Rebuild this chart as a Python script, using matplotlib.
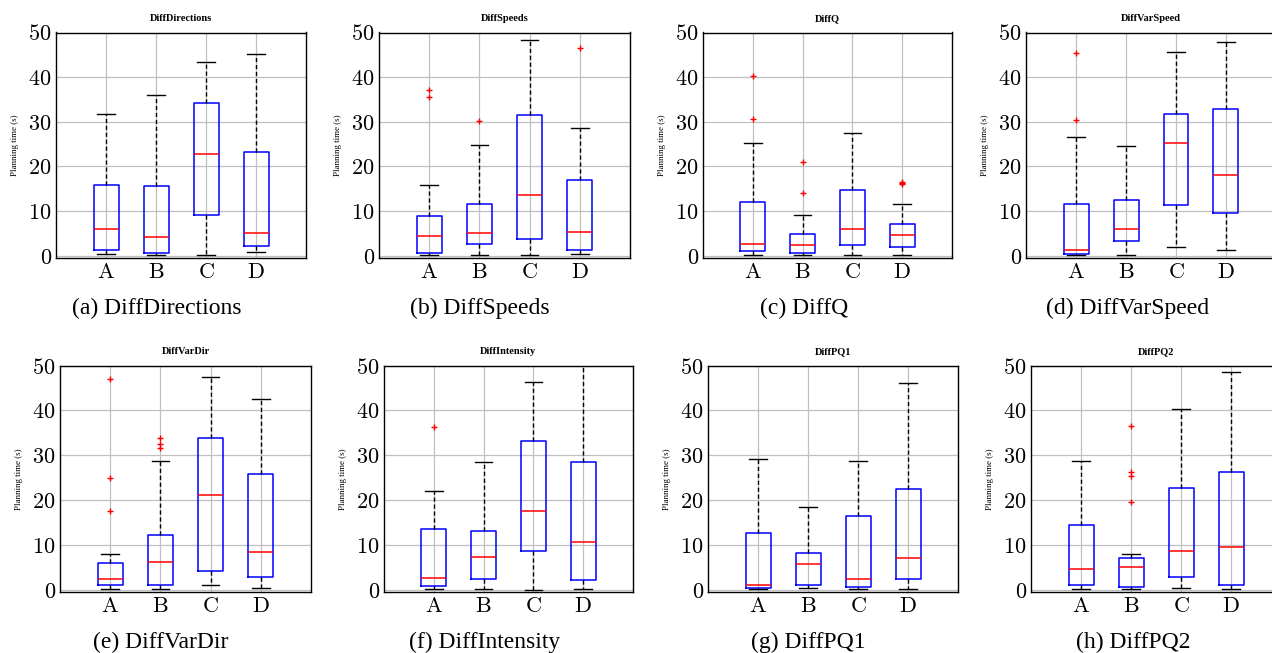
import matplotlib
matplotlib.use("Agg")
import matplotlib.pyplot as plt

plt.rcParams["mathtext.fontset"] = "cm"

groups = ["A", "B", "C", "D"]
titles = ["DiffDirections", "DiffSpeeds", "DiffQ", "DiffVarSpeed",
          "DiffVarDir", "DiffIntensity", "DiffPQ1", "DiffPQ2"]
letters = ["a", "b", "c", "d", "e", "f", "g", "h"]
yticks = [0, 10, 20, 30, 40, 50]

# box statistics per panel, one value per group A-D
medians = [
    [6.1, 4.3, 22.7, 5.2],
    [4.5, 5.1, 13.7, 5.3],
    [2.7, 2.4, 6.0, 4.7],
    [1.3, 6.0, 25.2, 18.1],
    [2.5, 6.2, 21.1, 8.5],
    [2.6, 7.4, 17.6, 10.6],
    [1.0, 5.7, 2.5, 7.0],
    [4.6, 5.1, 8.6, 9.5],
]
q1s = [
    [1.3, 0.7, 9.1, 2.2],
    [0.7, 2.7, 3.7, 1.3],
    [1.0, 0.7, 2.4, 2.0],
    [0.5, 3.2, 11.4, 9.6],
    [1.0, 1.0, 4.2, 2.9],
    [0.9, 2.5, 8.7, 2.1],
    [0.4, 1.1, 0.7, 2.5],
    [1.0, 0.7, 2.8, 1.1],
]
q3s = [
    [15.9, 15.7, 34.2, 23.2],
    [8.8, 11.7, 31.5, 16.9],
    [12.0, 4.8, 14.7, 7.1],
    [11.5, 12.4, 31.8, 32.8],
    [6.0, 12.3, 33.9, 25.7],
    [13.6, 13.1, 33.1, 28.4],
    [12.6, 8.1, 16.4, 22.4],
    [14.5, 7.1, 22.7, 26.3],
]
whis_low = [
    [0.4, 0.2, 0.2, 0.9],
    [0.2, 0.15, 0.1, 0.5],
    [0.15, 0.15, 0.15, 0.15],
    [0.1, 0.1, 2.0, 1.3],
    [0.15, 0.1, 1.0, 0.5],
    [0.15, 0.1, 0.0, 0.15],
    [0.15, 0.4, 0.15, 0.15],
    [0.15, 0.15, 0.5, 0.15],
]
whis_high = [
    [31.7, 36.1, 43.3, 45.1],
    [15.9, 24.9, 48.4, 28.6],
    [25.2, 9.1, 27.6, 11.5],
    [26.7, 24.6, 45.7, 47.9],
    [8.0, 28.8, 47.4, 42.6],
    [22.1, 28.4, 46.3, 52.0],
    [29.2, 18.4, 28.8, 46.0],
    [28.8, 8.0, 40.3, 48.6],
]
outliers = [
    [[], [], [], []],
    [[37.1, 35.5], [30.1], [], [46.5]],
    [[40.3, 30.6], [21.1, 14.1], [], [16.0, 16.2, 16.5]],
    [[45.3, 30.4], [], [], []],
    [[47.0, 25.0, 17.6], [33.9, 32.4, 31.5], [], []],
    [[36.3], [], [], []],
    [[], [], [], []],
    [[], [36.5, 26.3, 25.4, 19.5], [], []],
]

W, H = 1272, 653
fig = plt.figure(figsize=(W / 100, H / 100), dpi=100)

# axes boxes in pixels: left, top, right, bottom
ax_px = [
    (56, 32.5, 306, 258), (379, 32.5, 630, 258), (703, 32.5, 952, 258), (1026, 32.5, 1276, 258),
    (60, 365.5, 311, 592), (384, 365.5, 633, 592), (708, 365.5, 958, 592), (1031, 365.5, 1281, 592),
]
cap_px = [(157, 308), (480, 308), (804, 308), (1128, 308),
          (161, 642), (485, 642), (808, 642), (1133, 642)]

for i in range(8):
    l, t, r, b = ax_px[i]
    ax = fig.add_axes([l / W, 1 - b / H, (r - l) / W, (b - t) / H])
    stats = []
    for j, g in enumerate(groups):
        stats.append(dict(med=medians[i][j], q1=q1s[i][j], q3=q3s[i][j],
                          whislo=whis_low[i][j], whishi=whis_high[i][j],
                          fliers=outliers[i][j], label=g))
    ax.bxp(stats, positions=[1, 2, 3, 4], widths=0.5, capwidths=0.35,
           boxprops=dict(color="blue", linewidth=1.1),
           medianprops=dict(color="red", linewidth=1.1),
           whiskerprops=dict(color="black", linewidth=1.0, linestyle=(0, (3, 2))),
           capprops=dict(color="black", linewidth=1.0),
           flierprops=dict(marker="+", markeredgecolor="red", markersize=4,
                           markeredgewidth=1.0, linestyle="none"))
    ax.set_xlim(0, 5)
    ax.set_ylim(-0.5, 50)
    ax.set_axisbelow(True)
    ax.grid(True, color="#c0c0c0", linewidth=0.9)
    ax.set_yticks(yticks)
    ax.set_yticklabels(["$%d$" % v for v in yticks], fontsize=16)
    ax.set_xticks([1, 2, 3, 4])
    ax.set_xticklabels(["$\\mathrm{%s}$" % g for g in groups], fontsize=16)
    ax.tick_params(axis="both", length=0, pad=3)
    for s in ax.spines.values():
        s.set_linewidth(1.0)
    ax.set_title(titles[i], fontfamily="Liberation Serif", fontweight="bold",
                 fontsize=7.5, pad=8)
    ax.set_ylabel("Planning time (s)", fontfamily="Liberation Serif", fontsize=6.5,
                  labelpad=7)
    cx, cy = cap_px[i]
    fig.text(cx / W, 1 - cy / H, "(%s) %s" % (letters[i], titles[i]),
             fontfamily="Liberation Serif", fontsize=17, ha="center", va="center")

fig.savefig("out.png", dpi=100)
